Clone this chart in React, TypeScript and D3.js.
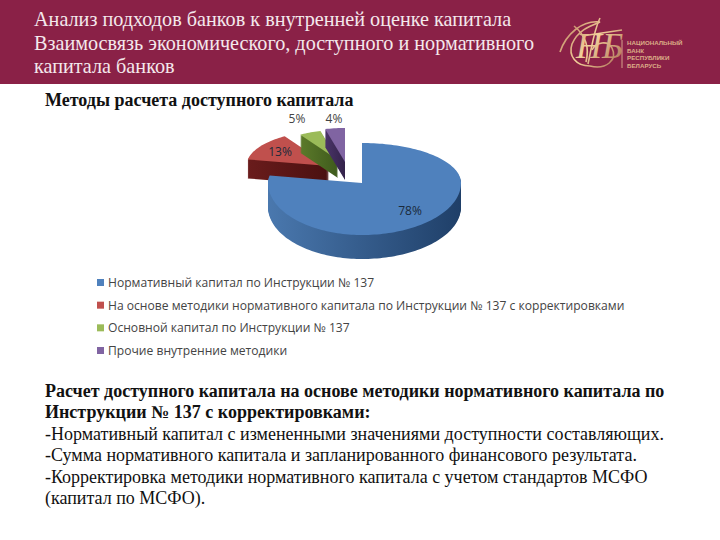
import React from "react";
import * as d3 from "d3";

const categories = [
  "Нормативный капитал по Инструкции № 137",
  "На основе методики нормативного капитала по Инструкции № 137 с корректировками",
  "Основной капитал по Инструкции № 137",
  "Прочие внутренние методики",
];
const values = [78, 13, 5, 4];
const valueLabels = ["78%", "13%", "5%", "4%"];
const topColors = ["#4f81bd", "#c0504d", "#9bbb59", "#8064a2"];
const sideLight = ["#4a78ae", "#6a1c1c", "#5c7a2a", "#4a3468"];
const sideDark = ["#1f3f68", "#4a1010", "#3e5a1c", "#33224a"];
const apexX = [362, 329, 338, 345];
const apexY = [183, 166, 160, 162];
const radiusScale = [1, 0.88, 0.75, 0.85];
const depths = [24, 19, 18, 18];
const labelX = [410, 280, 297, 334];
const labelY = [215, 156, 123, 123];
const titleLines = [
  "Анализ подходов банков к внутренней оценке капитала",
  "Взаимосвязь экономического, доступного и нормативного",
  "капитала банков",
];
const subtitle = "Методы расчета доступного капитала";
const boldLines = [
  "Расчет доступного капитала на основе методики нормативного капитала по",
  "Инструкции № 137 с корректировками:",
];
const bodyLines = [
  "-Нормативный капитал с измененными значениями доступности составляющих.",
  "-Сумма нормативного капитала и запланированного финансового результата.",
  "-Корректировка методики нормативного капитала с учетом стандартов МСФО",
  "(капитал по МСФО).",
];
const logoLines = ["НАЦИОНАЛЬНЫЙ", "БАНК", "РЕСПУБЛИКИ", "БЕЛАРУСЬ"];
const logoFlourishes = [
  "M560 52 C566 34 582 20 600 22 C590 26 578 30 572 44 C568 56 576 66 590 66",
  "M574 26 C584 34 590 46 586 62",
  "M590 66 C606 70 618 60 612 48 C608 40 596 42 592 50",
  "M600 18 C594 30 592 46 588 64",
  "M582 36 L622 30",
];

const pieAngles = d3.pie<number>().sort(null).startAngle(0).endAngle(2 * Math.PI)(values);
const legendY = d3.scalePoint<number>().domain([0, 1, 2, 3]).range([283, 351]);

function project(a: number, s: number): [number, number] {
  const sx = Math.sin(a), cy = Math.cos(a);
  return [(sx >= 0 ? 99 : 94) * s * sx, -(cy >= 0 ? 40 : 52) * s * cy];
}
function arcPts(a0: number, a1: number, s: number): [number, number][] {
  const n = Math.max(2, Math.ceil((a1 - a0) / 0.03));
  return d3.range(n + 1).map((i) => project(a0 + ((a1 - a0) * i) / n, s));
}
const line = d3.line();

export default function App() {
  const wedges = pieAngles.map((p, i) => {
    const pts = arcPts(p.startAngle, p.endAngle, radiusScale[i]);
    return { i, top: line([[0, 0], ...pts])! + "Z", pts };
  });
  const order = [1, 2, 3, 0];
  return (
    <svg width={720} height={540} style={{ position: "fixed", left: 0, top: 0, background: "#fff" }}>
      <defs>
        <linearGradient id="gold" gradientUnits="userSpaceOnUse" x1="560" y1="20" x2="620" y2="70">
          <stop offset="0" stopColor="#b87a5c" />
          <stop offset="0.5" stopColor="#f2cf9a" />
          <stop offset="1" stopColor="#a86a52" />
        </linearGradient>
        {wedges.map((w) => (
          <linearGradient key={w.i} id={`side${w.i}`} x1="0" x2="1" y1="0" y2="0">
            <stop offset="0" stopColor={sideLight[w.i]} />
            <stop offset="1" stopColor={sideDark[w.i]} />
          </linearGradient>
        ))}
      </defs>
      <rect x={0} y={0} width={720} height={84} fill="#8a2147" />
      {titleLines.map((t, i) => (
        <text key={t} x={34} y={26 + i * 23.5} fontFamily="Liberation Serif" fontSize={20.2} fill="#f4e8ec">{t}</text>
      ))}
      {logoFlourishes.map((d) => (
        <path key={d} d={d} fill="none" stroke="url(#gold)" strokeWidth={1.6} />
      ))}
      <text x={576} y={58} fontFamily="Liberation Serif" fontStyle="italic" fontSize={36} fill="url(#gold)">НБ</text>
      <line x1={622} x2={622} y1={40} y2={68} stroke="#e8c8a0" strokeWidth={0.8} />
      {logoLines.map((t, i) => (
        <text key={t} x={627} y={45 + i * 7.6} fontFamily="Liberation Sans" fontSize={6.2} fontWeight="bold" fill="#dcae88">{t}</text>
      ))}
      <text x={45} y={106} fontFamily="Liberation Serif" fontWeight="bold" fontSize={18} fill="#111">{subtitle}</text>

      {order.map((i) => {
        const w = wedges[i];
        return (
          <g key={i} transform={`translate(${apexX[i]},${apexY[i]})`}>
            {d3.range(depths[i], 0, -1).map((d) => (
              <path key={d} d={w.top} transform={`translate(0,${d})`} fill={`url(#side${i})`} />
            ))}
            <path d={w.top} fill={topColors[i]} />
          </g>
        );
      })}
      {valueLabels.map((t, i) => (
        <text key={t} x={labelX[i]} y={labelY[i]} textAnchor="middle" fontFamily="Open Sans" fontSize={12} fill={i < 2 ? "#1a2a3a" : "#444"}>{t}</text>
      ))}
      {categories.map((c, i) => (
        <g key={c}>
          <rect x={97} y={legendY(i)! - 4} width={7} height={7} fill={topColors[i]} />
          <text x={108} y={legendY(i)! + 4} fontFamily="Open Sans" fontSize={12.1} fill="#444">{c}</text>
        </g>
      ))}
      {boldLines.map((t, i) => (
        <text key={t} x={45} y={397 + i * 21} fontFamily="Liberation Serif" fontWeight="bold" fontSize={18} fill="#111">{t}</text>
      ))}
      {bodyLines.map((t, i) => (
        <text key={t} x={45} y={440 + i * 21.3} fontFamily="Liberation Serif" fontSize={18} fill="#111">{t}</text>
      ))}
    </svg>
  );
}
